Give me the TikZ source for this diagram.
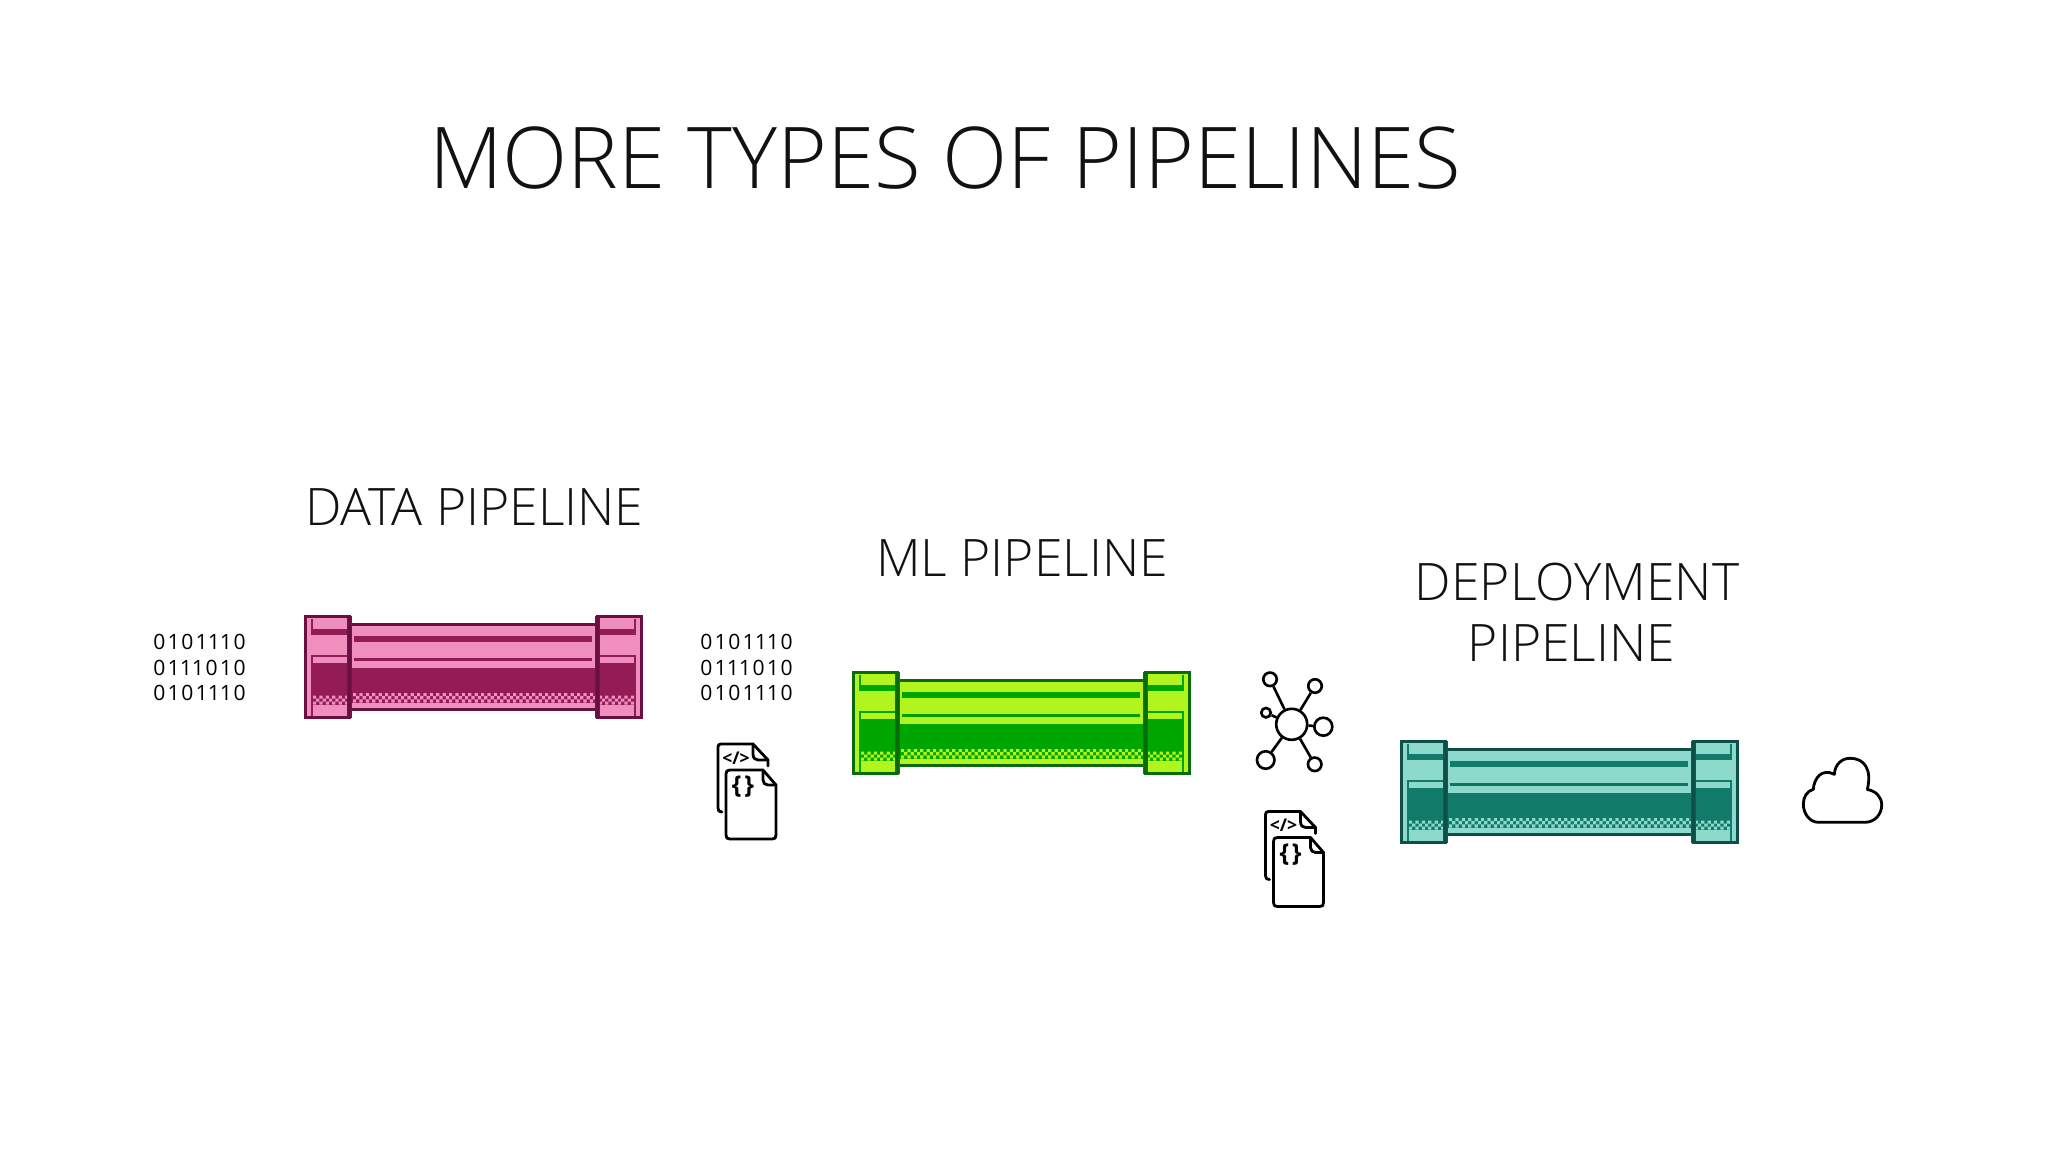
\documentclass[tikz,border=0pt]{standalone}
\usepackage{fontspec}
\setmainfont{Open Sans Light}
\newfontfamily\regfont[Numbers=Proportional,LetterSpace=18]{Open Sans}
\newfontfamily\boldfont{Open Sans Bold}
\definecolor{pinkL}{HTML}{F08FBE}\definecolor{pinkM}{HTML}{931C57}\definecolor{pinkD}{HTML}{6A0F42}
\definecolor{greenL}{HTML}{B2F51E}\definecolor{greenM}{HTML}{00A600}\definecolor{greenD}{HTML}{0A6B0A}
\definecolor{tealL}{HTML}{8DD9CC}\definecolor{tealM}{HTML}{117A68}\definecolor{tealD}{HTML}{0E5048}
\definecolor{ink}{HTML}{111111}
\tikzset{
  titletext/.style={anchor=base west,inner sep=0pt,text=ink,font=\fontsize{48.5}{60}\selectfont},
  labeltext/.style={anchor=base,inner sep=0pt,text=ink,font=\fontsize{29.4}{36}\selectfont},
  bintext/.style={anchor=center,inner sep=0pt,text=black,font=\regfont\fontsize{12}{14}\selectfont},
  iconline/.style={draw=black,line width=1.6pt,line join=round,line cap=round},
  netnode/.style={circle,draw=black,fill=white,line width=1.5pt,inner sep=0pt},
}
\newcommand{\collar}[3]{%
  \fill[#1] (0,0) rectangle (45,102);
  \fill[#2] (6.3,13.3) rectangle (42,18.7);
  \fill[#2] (6.3,39) rectangle (45,41.3);
  \fill[#2] (6.3,39) rectangle (8,100);
  \fill[#2] (6.3,2.7) rectangle (8,15);
  \fill[#2] (8,47.3) rectangle (45,79);
  \fill[#2] (8,79) rectangle (45,89);
  \fill[#1] \foreach \c in {0,6.4,...,32} {(8+\c,79.5) rectangle ++(3.2,3) (11.2+\c,82.5) rectangle ++(3.2,3) (8+\c,85.5) rectangle ++(3.2,3)};
  \fill[#3!70!#2] (42,0) rectangle (47,102);
  \draw[#3,line width=1.6pt] (0.8,0.8) rectangle (44.6,101.2);
}
\newcommand{\pipe}[5]{%
  \begin{scope}[shift={(#1,#2)}]
    \fill[#3] (45,8.5) rectangle (291,93.5);
    \fill[#5] (45,7.3) rectangle (291,10);
    \fill[#4] (49,20) rectangle (287,25.7);
    \fill[#4!85!#5] (49,42.3) rectangle (287,45);
    \fill[#4] (47,51.7) rectangle (291,76.7);
    \fill[#4] (47,76.7) rectangle (291,86.7);
    \fill[#3] \foreach \c in {0,6.4,...,238} {(48+\c,77) rectangle ++(3.2,3.2) (51.2+\c,80.2) rectangle ++(3.2,3.2) (48+\c,83.4) rectangle ++(3.2,3.2)};
    \fill[#5] (45,92.3) rectangle (291,95);
    \collar{#3}{#4}{#5}
    \begin{scope}[shift={(337,0)},xscale=-1]
      \collar{#3}{#4}{#5}
    \end{scope}
  \end{scope}
}
\newcommand{\binary}[3]{%
  \node[bintext] (#3a) at (#1,#2) {0101110};
  \node[bintext] (#3b) at (#1,#2+25.5) {0111010};
  \node[bintext] (#3c) at (#1,#2+51) {0101110};
}
\newcommand{\fileicon}[3]{%
  \begin{scope}[shift={(#1,#2)}]
    \draw[iconline] (32,82) .. controls (29,82) and (28,81) .. (28,78) -- (28,17) .. controls (28,15) and (29,14) .. (31,14) -- (63,14) -- (78,30) -- (78,36);
    \draw[iconline] (63,14) -- (63,24) .. controls (63,28) and (65,30) .. (68,30) -- (78,30);
    \draw[iconline,fill=white] (40,40) -- (73,40) -- (86,55) -- (86,105) .. controls (86,108) and (85,109) .. (82,109) -- (40,109) .. controls (37,109) and (36,108) .. (36,105) -- (36,44) .. controls (36,41) and (37,40) .. (40,40) -- cycle;
    \draw[iconline] (73,40) -- (73,50) .. controls (73,53) and (75,55) .. (78,55) -- (86,55);
    \node[inner sep=0pt,font=\boldfont\fontsize{10}{13}\selectfont] (#3code) at (46,28) {</>};
    \node[inner sep=0pt,font=\boldfont\fontsize{14}{16}\selectfont] (#3brace) at (53,57) {\{\kern1.5pt\}};
  \end{scope}
}
\begin{document}
\begin{tikzpicture}[x=0.02cm,y=-0.02cm]
\useasboundingbox (0,0) rectangle (2048,1152);
\fill[white] (0,0) rectangle (2048,1152);

\node[titletext] (title) at (429,189) {MORE TYPES OF PIPELINES};
\node[labeltext] (ldata) at (474.5,525) {DATA PIPELINE};
\node[labeltext] (lml) at (1022,576) {ML PIPELINE};
\node[labeltext] (ldep) at (1577,600) {DEPLOYMENT};
\node[labeltext] (ldepb) at (1571.5,661) {PIPELINE};

\pipe{305}{616}{pinkL}{pinkM}{pinkD}
\pipe{853}{672}{greenL}{greenM}{greenD}
\pipe{1401}{741}{tealL}{tealM}{tealD}

\binary{199.5}{642}{ba}
\binary{746.5}{642}{bb}

\fileicon{690}{730}{fa}
\fileicon{1237.5}{797.5}{fb}

\begin{scope}[shift={(1240,660)}]
  \node[netnode,minimum size=0.62cm] (hub) at (51.7,64.3) {};
  \node[netnode,minimum size=0.27cm] (n1) at (30,19.3) {};
  \node[netnode,minimum size=0.27cm] (n2) at (75,26) {};
  \node[netnode,minimum size=0.19cm] (n3) at (26,52.7) {};
  \node[netnode,minimum size=0.36cm] (n4) at (83.3,66.7) {};
  \node[netnode,minimum size=0.35cm] (n5) at (25.7,100) {};
  \node[netnode,minimum size=0.27cm] (n6) at (74.7,104.3) {};
  \foreach \n in {n1,n2,n3,n4,n5,n6} \draw[line width=1.5pt] (hub) -- (\n);
\end{scope}

\begin{scope}[shift={(1780,740)}]
  \draw[iconline] (38.3,82.3) -- (85,82.3)
    .. controls (95,82.3) and (101.7,74) .. (101.7,65)
    .. controls (101.7,57) and (96,51) .. (87.3,49.5)
    .. controls (92,30) and (85,18.3) .. (70,18.3)
    .. controls (62,18.3) and (55,24) .. (54.3,34.3)
    .. controls (42,28) and (34,38) .. (33.3,49.3)
    .. controls (27,51) and (23.3,57) .. (23.3,64)
    .. controls (23.3,74) and (30,82.3) .. (38.3,82.3) -- cycle;
\end{scope}
\end{tikzpicture}
\end{document}
